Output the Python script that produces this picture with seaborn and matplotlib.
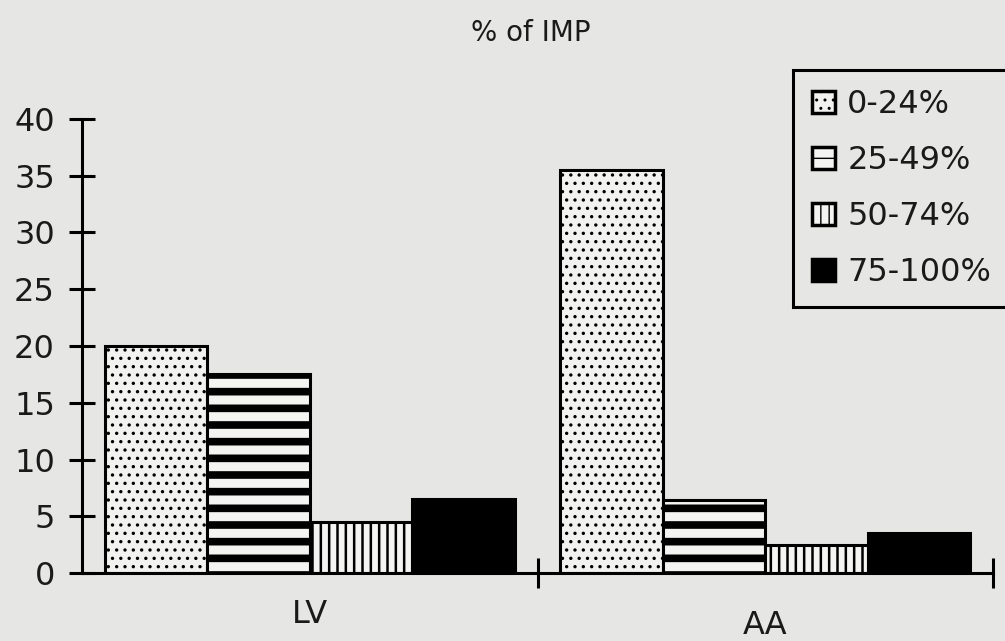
import matplotlib
matplotlib.use("Agg")
import matplotlib.pyplot as plt
from matplotlib.patches import Patch
import seaborn as sns
import pandas as pd

# ---- data ----
groups = ["LV", "AA"]
ranges = ["0-24%", "25-49%", "50-74%", "75-100%"]
vals_0_24 = [20.0, 35.5]
vals_25_49 = [17.5, 6.4]
vals_50_74 = [4.5, 2.5]
vals_75_100 = [6.5, 3.5]
title = "% of IMP"
yticks = [0, 5, 10, 15, 20, 25, 30, 35, 40]

series = [vals_0_24, vals_25_49, vals_50_74, vals_75_100]
rows = []
for r, vals in zip(ranges, series):
    for g, v in zip(groups, vals):
        rows.append({"group": g, "range": r, "value": v})
df = pd.DataFrame(rows)

# ---- styles ----
BG = "#e6e6e4"
TXT = "#1a1a1a"
face = ["#f2f2f0", "#f4f4f2", "#f4f4f2", "#000000"]
hatches = ["..", "-", "||", ""]
hatch_lw = [1.2, 5.5, 1.8, 1.0]
FS = 23

sns.set_theme(style="white")
plt.rcParams["font.family"] = ["DejaVu Sans"]
plt.rcParams["hatch.color"] = "black"
plt.rcParams["text.color"] = TXT

fig = plt.figure(figsize=(10.05, 6.41), dpi=100, facecolor=BG)
ax = fig.add_axes([82 / 1005, 1 - 573 / 641, (993 - 82) / 1005, (573 - 119) / 641])
ax.set_facecolor(BG)

sns.barplot(data=df, x="group", y="value", hue="range", order=groups,
            hue_order=ranges, palette=face, saturation=1, width=0.9,
            edgecolor="black", linewidth=2.2, legend=False, ax=ax, errorbar=None)

for cont, h, hl in zip(ax.containers, hatches, hatch_lw):
    for p in cont:
        p.set_hatch(h)
        p.set_edgecolor("black")
        try:
            p.set_hatch_linewidth(hl)
        except AttributeError:
            p._hatch_linewidth = hl

ax.set_xlim(-0.5, 1.5)
ax.set_ylim(0, 40)
ax.set_yticks(yticks)
ax.set_yticklabels([str(t) for t in yticks])
ax.set_xlabel("")
ax.set_ylabel("")

for s in ["top", "right"]:
    ax.spines[s].set_visible(False)
for s in ["left", "bottom"]:
    ax.spines[s].set_color("black")
    ax.spines[s].set_linewidth(2.2)

ax.tick_params(axis="y", direction="inout", length=19, width=2.2, color="black",
               labelcolor=TXT, labelsize=FS, pad=10, left=True)
ax.set_xticks([0, 1])
ax.set_xticklabels(groups)
ax.tick_params(axis="x", which="major", length=0, labelsize=FS, pad=19, labelcolor=TXT)
ax.set_xticks([0.5, 1.5], minor=True)
ax.tick_params(axis="x", which="minor", direction="inout", length=22, width=2.2,
               color="black", bottom=True)
for lab in ax.get_xticklabels():
    if lab.get_text() == "AA":
        lab.set_y(-0.024)

fig.text(531 / 1005, 1 - 33 / 641, title, ha="center", va="center", fontsize=20,
         color=TXT)

handles = [Patch(facecolor=f, edgecolor="black", hatch=h, linewidth=2.5)
           for f, h in zip(face, hatches)]
leg = fig.legend(handles, ranges, loc="upper left",
                 bbox_to_anchor=(793 / 1005, 1 - 70 / 641),
                 bbox_transform=fig.transFigure, frameon=True, fancybox=False,
                 edgecolor="black", facecolor=BG, framealpha=1, fontsize=FS,
                 handlelength=0.7, handleheight=0.7, handletextpad=0.4,
                 labelspacing=0.78, borderpad=0.6, borderaxespad=0)
leg.get_frame().set_linewidth(2.2)
for t in leg.get_texts():
    t.set_color(TXT)

fig.savefig("out.png", dpi=100, facecolor=BG)
